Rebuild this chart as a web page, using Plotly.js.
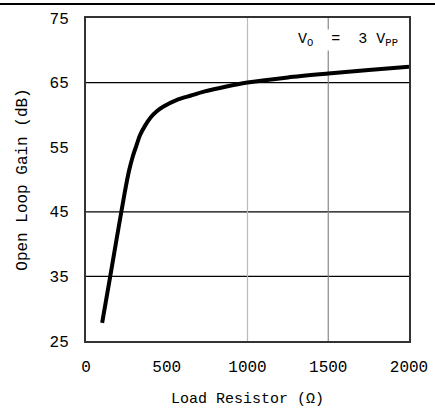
<!DOCTYPE html>
<html>
<head>
<meta charset="utf-8">
<script src="https://cdn.plot.ly/plotly-3.0.1.min.js"></script>
<style>html,body{margin:0;padding:0;background:#fff;}#chart{width:435px;height:408px;}</style>
</head>
<body>
<div id="chart"></div>
<script>
// Load resistor (ohm) and open loop gain (dB)
const loadResistor = [100, 150, 200, 240, 265, 290, 310, 335, 365, 400, 440, 480, 560, 650, 730, 870, 1000, 1250, 1500, 1750, 2000];
const openLoopGain = [27.8, 35.0, 42.3, 48.0, 51.2, 53.6, 55.1, 56.9, 58.3, 59.6, 60.6, 61.3, 62.3, 63.0, 63.6, 64.4, 65.0, 65.8, 66.4, 66.95, 67.45];
const xTicks = [0, 500, 1000, 1500, 2000];
const yTicks = [25, 35, 45, 55, 65, 75];
const hGrid = [35, 45, 65];
const vGrid = [1000, 1500];
const vGridColors = ['#bbbbbb', '#888888'];
const labelText = 'V<sub>O</sub>  =  3 V<sub>PP</sub>';
// page separator rule at the very top (own invisible subplot)
const sepX = [0, 1];
const sepY = [0, 0];

const FONT = 'Liberation Mono, DejaVu Sans Mono, monospace';
const W = 435, H = 408;

const shapes = [];
hGrid.forEach(v => shapes.push({type:'line', xref:'x domain', x0:0, x1:1, yref:'y', y0:v, y1:v, line:{color:'#000', width:1.2}, layer:'below'}));
vGrid.forEach((v,i) => shapes.push({type:'line', xref:'x', x0:v, x1:v, yref:'y domain', y0:0, y1:1, line:{color:vGridColors[i], width:1.2}, layer:'below'}));

const data = [{
  x: loadResistor, y: openLoopGain, type:'scatter', mode:'lines',
  line:{color:'#000', width:4, shape:'spline', smoothing:0.8}, hoverinfo:'skip'
},{
  x: sepX, y: sepY, xaxis:'x2', yaxis:'y2', type:'scatter', mode:'lines',
  line:{color:'#000', width:2}, hoverinfo:'skip', cliponaxis:false
}];

const layout = {
  width:W, height:H,
  margin:{l:0, r:0, t:0, b:0},
  paper_bgcolor:'#fff', plot_bgcolor:'#fff',
  showlegend:false,
  font:{family:FONT, size:16, color:'#000'},
  xaxis:{
    domain:[86/W, 409/W], automargin:false,
    range:[0,2000], tickvals:xTicks, ticktext:xTicks.map(String),
    showgrid:false, zeroline:false,
    showline:true, mirror:true, linecolor:'#333', linewidth:2,
    ticks:'outside', ticklen:10, tickcolor:'rgba(0,0,0,0)',
    tickfont:{family:FONT, size:16},
    title:{text:'Load Resistor (Ω)', font:{family:FONT, size:15}, standoff:16}
  },
  yaxis:{
    domain:[(H-341)/H, (H-18)/H], automargin:false,
    range:[25,75], tickvals:yTicks, ticktext:yTicks.map(String),
    showgrid:false, zeroline:false,
    showline:true, mirror:true, linecolor:'#333', linewidth:2,
    ticks:'outside', ticklen:12, tickcolor:'rgba(0,0,0,0)',
    tickfont:{family:FONT, size:16},
    title:{text:'Open Loop Gain (dB)', font:{family:FONT, size:16}, standoff:18}
  },
  xaxis2:{domain:[0,1], range:[0,1], visible:false, fixedrange:true, anchor:'y2'},
  yaxis2:{domain:[(H-8)/H, H/H], range:[-1,1], visible:false, fixedrange:true, anchor:'x2'},
  shapes: shapes,
  annotations:[{
    x:1620, y:71.6, xref:'x', yref:'y', text:labelText, showarrow:false,
    xanchor:'center', yanchor:'middle', bgcolor:'#fff',
    font:{family:FONT, size:15, color:'#000'}
  }]
};

Plotly.newPlot('chart', data, layout, {staticPlot:true, displayModeBar:false});
</script>
</body>
</html>
